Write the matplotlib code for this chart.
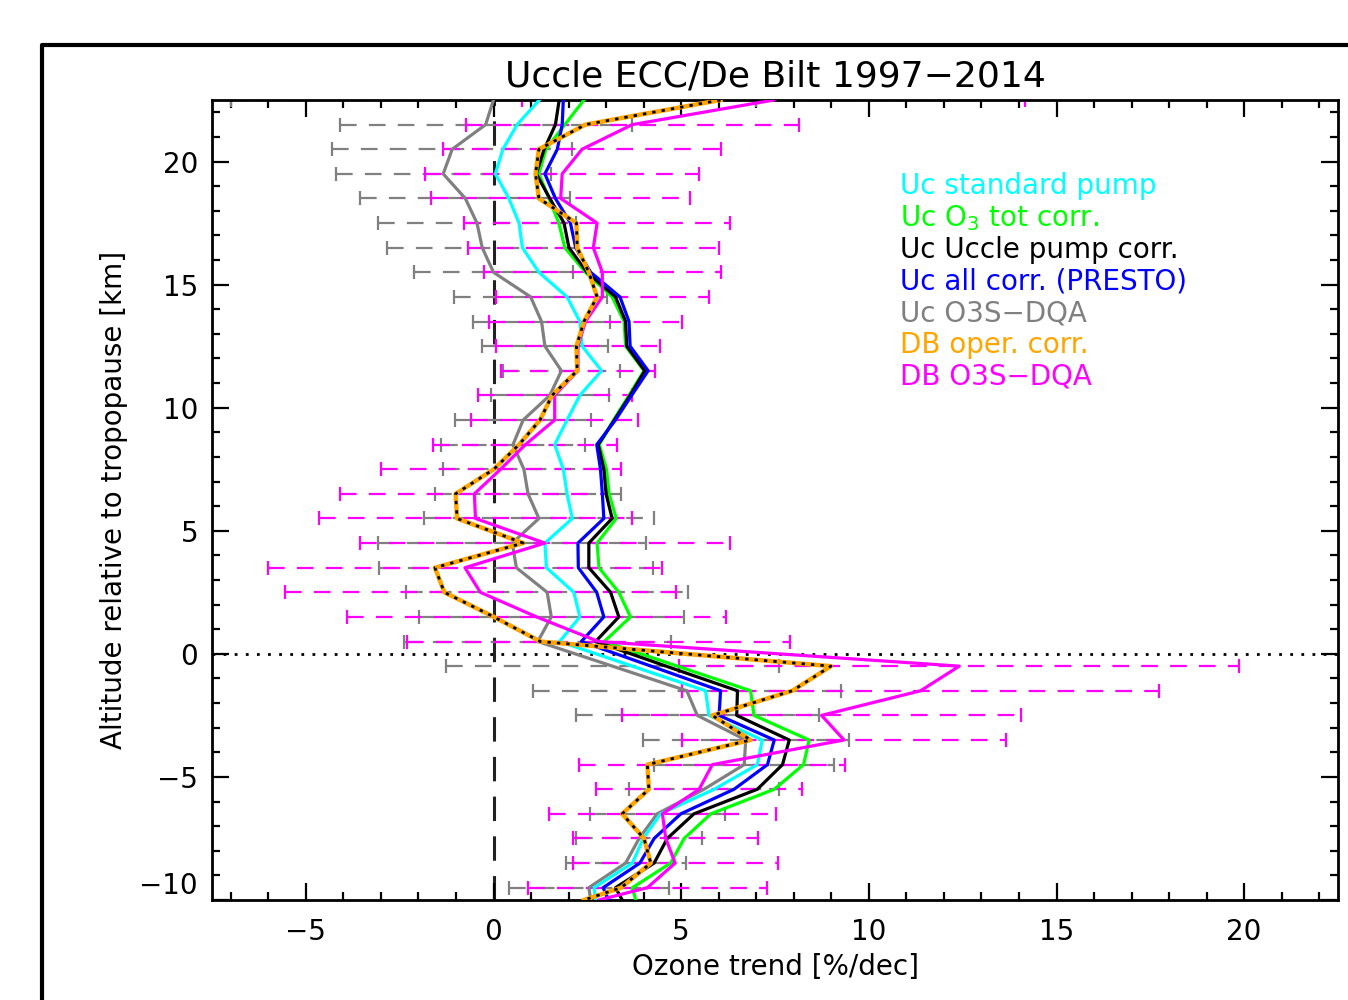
import numpy as np
import matplotlib
matplotlib.use("Agg")
import matplotlib.pyplot as plt
from matplotlib.lines import Line2D

# ---------------- data ----------------
levels = [22.5, 21.5, 20.5, 19.5, 18.5, 17.5, 16.5, 15.5, 14.5, 13.5, 12.5, 11.5,
          10.5, 9.5, 8.5, 7.5, 6.5, 5.5, 4.5, 3.5, 2.5, 1.5, 0.5, -0.5, -1.5,
          -2.5, -3.5, -4.5, -5.5, -6.5, -7.5, -8.5, -9.5, -10.0]

uc_standard = [1.22, 0.63, 0.25, 0.05, 0.41, 0.68, 0.77, 1.21, 1.96, 2.30, 2.36, 2.88,
               2.30, 1.96, 1.63, 1.86, 1.96, 2.10, 1.37, 1.41, 2.14, 2.30, 1.76, 3.70, 5.65,
               5.74, 7.16, 7.03, 5.88, 4.45, 3.99, 3.70, 2.68, 2.72]
uc_o3tot = [2.41, 1.90, 1.40, 1.21, 1.48, 1.74, 1.90, 2.45, 3.16, 3.48, 3.52, 4.01,
            3.61, 3.20, 2.82, 3.01, 3.08, 3.27, 2.76, 2.81, 3.34, 3.65, 2.95, 4.90, 6.85,
            6.94, 8.41, 8.26, 7.48, 5.79, 5.08, 4.72, 3.70, 3.79]
uc_pump = [1.75, 1.65, 1.35, 1.14, 1.50, 1.88, 2.01, 2.49, 3.25, 3.52, 3.55, 4.03,
           3.64, 3.22, 2.79, 2.94, 3.00, 3.16, 2.54, 2.54, 3.12, 3.34, 2.72, 4.60, 6.50,
           6.48, 7.88, 7.70, 7.03, 5.34, 4.63, 4.28, 3.25, 3.43]
uc_presto = [1.86, 1.83, 1.70, 1.37, 1.65, 2.05, 2.19, 2.59, 3.37, 3.61, 3.64, 4.12,
             3.68, 3.25, 2.75, 2.85, 2.90, 2.94, 2.25, 2.26, 2.75, 2.94, 2.34, 4.20, 6.05,
             6.01, 7.48, 7.30, 6.41, 4.99, 4.28, 3.90, 2.92, 3.07]
uc_o3sdqa = [0.00, -0.21, -1.10, -1.34, -0.75, -0.44, -0.30, 0.00, 0.99, 1.28, 1.37, 1.81,
             1.50, 0.79, 0.52, 0.81, 0.92, 1.21, 0.50, 0.61, 1.43, 1.54, 1.18, 3.17, 5.15,
             5.43, 6.72, 6.68, 5.61, 4.36, 3.88, 3.52, 2.54, 2.59]
uc_o3sdqa_err = [7.0, 3.89, 3.20, 2.86, 2.80, 2.64, 2.55, 2.11, 2.03, 1.82, 1.68, 1.55,
                 1.57, 1.81, 1.92, 2.15, 2.47, 3.07, 3.57, 3.65, 3.76, 3.53, 3.56, 4.44, 4.11,
                 3.23, 2.75, 2.40, 2.00, 1.80, 1.68, 1.60, 2.14, np.nan]
db_oper = [6.05, 2.45, 1.21, 1.12, 1.21, 2.21, 2.23, 2.54, 2.76, 2.41, 2.21, 2.23,
           1.56, 1.24, 0.68, 0.01, -1.01, -0.97, 0.79, -1.56, -1.31, 0.01, 1.25, 8.99, 7.96,
           5.83, 6.85, 4.10, 4.14, 3.43, 4.01, 4.19, 3.40, 2.41]
db_o3sdqa = [7.47, 3.70, 2.36, 1.83, 1.79, 2.76, 2.66, 2.90, 2.90, 2.45, 2.25, 2.25,
             1.63, 1.63, 0.85, 0.19, -0.51, -0.48, 1.37, -0.76, -0.35, 1.15, 2.80, 12.41, 11.38,
             8.74, 9.34, 5.83, 5.48, 4.50, 4.59, 4.84, 4.10, 2.81]
db_o3sdqa_err = [6.7, 4.44, 3.70, 3.65, 3.45, 3.54, 3.35, 3.16, 2.84, 2.58, 2.18, 2.06,
                 2.05, 2.22, 2.45, 3.20, 3.57, 4.16, 4.92, 5.25, 5.20, 5.05, 5.10, 7.46, 6.35,
                 5.32, 4.32, 3.54, 2.75, 3.02, 2.47, 2.73, 3.18, np.nan]

legend_labels = ["Uc standard pump", "Uc O$_3$ tot corr.", "Uc Uccle pump corr.",
                 "Uc all corr. (PRESTO)", "Uc O3S\u2212DQA", "DB oper. corr.", "DB O3S\u2212DQA"]
legend_colors = ["#00ffff", "#00ff00", "black", "#0000ff", "#808080", "#ffa500", "#ff00ff"]

# ---------------- figure ----------------
plt.rcParams['font.family'] = ['DejaVu Sans']
fig = plt.figure(figsize=(13.48, 10.0), dpi=100)
ax = fig.add_axes([212/1348, 0.10, (1338-212)/1348, 0.80])

y = np.array(levels)

# error bars
def dashed_errorbar(x, err, color):
    eb = ax.errorbar(x, y, xerr=err, fmt='none', ecolor=color, elinewidth=1.6,
                     capsize=5, capthick=1.6, zorder=2)
    for lc in eb[2]:
        lc.set_linestyle((0, (7.5, 5.5)))
    return eb

dashed_errorbar(uc_o3sdqa, uc_o3sdqa_err, "#808080")
dashed_errorbar(db_o3sdqa, db_o3sdqa_err, "#ff00ff")

# reference lines
ax.axvline(0, color="#222222", lw=2.2, ls=(0, (8, 5)), zorder=1)
ax.axhline(0, color="black", lw=2, ls=(0, (1, 3)), zorder=1)

lw = 2.3
ax.plot(uc_o3sdqa, y, color="#808080", lw=lw, zorder=3)
ax.plot(uc_standard, y, color="#00ffff", lw=lw, zorder=3)
ax.plot(uc_o3tot, y, color="#00ff00", lw=lw, zorder=3)
ax.plot(uc_pump, y, color="black", lw=lw, zorder=4)
ax.plot(uc_presto, y, color="#0000ff", lw=lw, zorder=4)
ax.plot(db_o3sdqa, y, color="#ff00ff", lw=lw, zorder=4)
ax.plot(db_oper, y, color="#ffa500", lw=3.2, zorder=5)
ax.plot(db_oper, y, color="black", lw=2.0, ls=(0, (1.2, 2.2)), zorder=6)

ax.set_xlim(-7.5, 22.5)
ax.set_ylim(-10, 22.5)
ax.set_xticks([-5, 0, 5, 10, 15, 20])
ax.set_yticks([-10, -5, 0, 5, 10, 15, 20])
ax.set_xticks(np.arange(-7, 23, 1), minor=True)
ax.set_yticks(np.arange(-10, 23, 1), minor=True)
ax.set_xticklabels(["\u22125", "0", "5", "10", "15", "20"])
ax.set_yticklabels(["\u221210", "\u22125", "0", "5", "10", "15", "20"])
ax.tick_params(which='both', direction='in', top=True, right=True, labelsize=20, width=1.6)
ax.tick_params(which='major', length=12)
ax.tick_params(axis='x', which='major', pad=13)
ax.tick_params(axis='y', which='major', pad=10)
ax.tick_params(which='minor', length=6)
ax.get_yticklabels()[0].set_va('bottom')
for s in ax.spines.values():
    s.set_linewidth(2)

ax.set_xlabel("Ozone trend [%/dec]", fontsize=20, labelpad=5)
ax.set_ylabel("Altitude relative to tropopause [km]", fontsize=20, labelpad=8)
ax.set_title("Uccle ECC/De Bilt 1997\u22122014", fontsize=26, pad=10)

# legend as coloured text
for i, (lab, col) in enumerate(zip(legend_labels, legend_colors)):
    fig.text(900/1348, 1 - (186 + i*31.8)/1000, lab, color=col, fontsize=20,
             ha='left', va='center')

# outer frame
fig.add_artist(Line2D([42/1348, 42/1348, 1.0], [0.0, 1 - 45/1000, 1 - 45/1000],
                      transform=fig.transFigure, color='black', lw=3))

fig.savefig("out.png", dpi=100)
